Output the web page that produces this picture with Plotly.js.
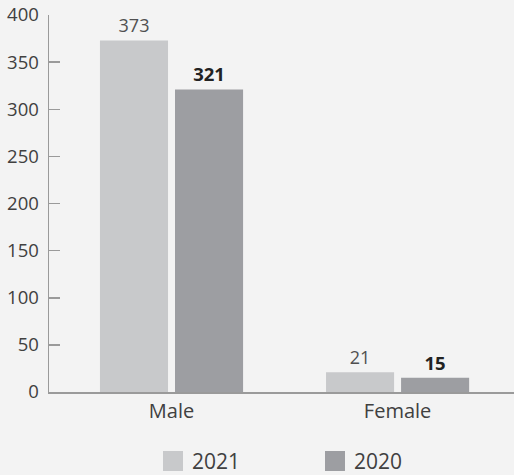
<!DOCTYPE html>
<html>
<head>
<meta charset="utf-8">
<script src="https://cdn.plot.ly/plotly-3.0.1.min.js"></script>
<style>
  html, body { margin: 0; padding: 0; background: #f3f3f3; }
  #chart { width: 514px; height: 475px; }
</style>
</head>
<body>
<div id="chart"></div>
<script>
const categories = ["Male", "Female"];
const values2021 = [373, 21];
const values2020 = [321, 15];
const seriesNames = ["2021", "2020"];
const seriesColors = ["#c8c9cb", "#9d9ea2"];
const yTicks = [0, 50, 100, 150, 200, 250, 300, 350, 400];

const fontFam = "'Open Sans', 'Noto Sans', sans-serif";

const traces = [
  {
    type: "bar", name: seriesNames[0], x: categories, y: values2021,
    marker: { color: seriesColors[0] },
    textposition: "outside",
    texttemplate: "%{y}",
    textfont: { family: fontFam, size: 18, color: "#505050" },
    cliponaxis: false, hoverinfo: "none", showlegend: false
  },
  {
    type: "bar", name: seriesNames[1], x: categories, y: values2020,
    marker: { color: seriesColors[1] },
    textposition: "outside",
    texttemplate: "<b>%{y}</b>",
    textfont: { family: fontFam, size: 18.5, color: "#222222" },
    cliponaxis: false, hoverinfo: "none", showlegend: false
  }
];

// custom legend built from series names & colours
const legendSymbolX = [0.2667, 0.615];
const legendY = -0.183;
const shapes = seriesNames.map(function (n, i) {
  return {
    type: "rect", xref: "paper", yref: "paper",
    xsizemode: "pixel", ysizemode: "pixel",
    xanchor: legendSymbolX[i], yanchor: legendY,
    x0: -10, x1: 10, y0: -10, y1: 10,
    fillcolor: seriesColors[i], line: { width: 0 }
  };
});
const annotations = seriesNames.map(function (n, i) {
  return {
    text: n, xref: "paper", yref: "paper",
    x: legendSymbolX[i] + 0.036, y: legendY,
    xanchor: "left", yanchor: "middle", showarrow: false,
    font: { family: fontFam, size: 21, color: "#404040" }
  };
});

const layout = {
  width: 514, height: 475,
  paper_bgcolor: "#f3f3f3", plot_bgcolor: "#f3f3f3",
  margin: { l: 49, r: 0, t: 15, b: 83, pad: 0 },
  barmode: "group", bargap: 0.336, bargroupgap: 0.093,
  font: { family: fontFam, size: 17, color: "#404040" },
  xaxis: {
    type: "category", range: [-0.542, 1.515],
    showline: true, linecolor: "#9a9a9a", linewidth: 1.5,
    ticks: "", showgrid: false, zeroline: false,
    tickfont: { family: fontFam, size: 20, color: "#404040" },
    fixedrange: true
  },
  yaxis: {
    range: [0, 400], tickvals: yTicks, ticktext: yTicks.map(String),
    showline: true, linecolor: "#9a9a9a", linewidth: 1.5,
    ticks: "inside", ticklen: 11, tickcolor: "#9a9a9a", tickwidth: 1.5,
    showgrid: false, zeroline: false,
    tickfont: { family: fontFam, size: 18.5, color: "#404040" },
    ticklabelstandoff: 5,
    fixedrange: true
  },
  showlegend: false,
  shapes: shapes,
  annotations: annotations
};

Plotly.newPlot("chart", traces, layout, { displayModeBar: false, staticPlot: true });
</script>
</body>
</html>
